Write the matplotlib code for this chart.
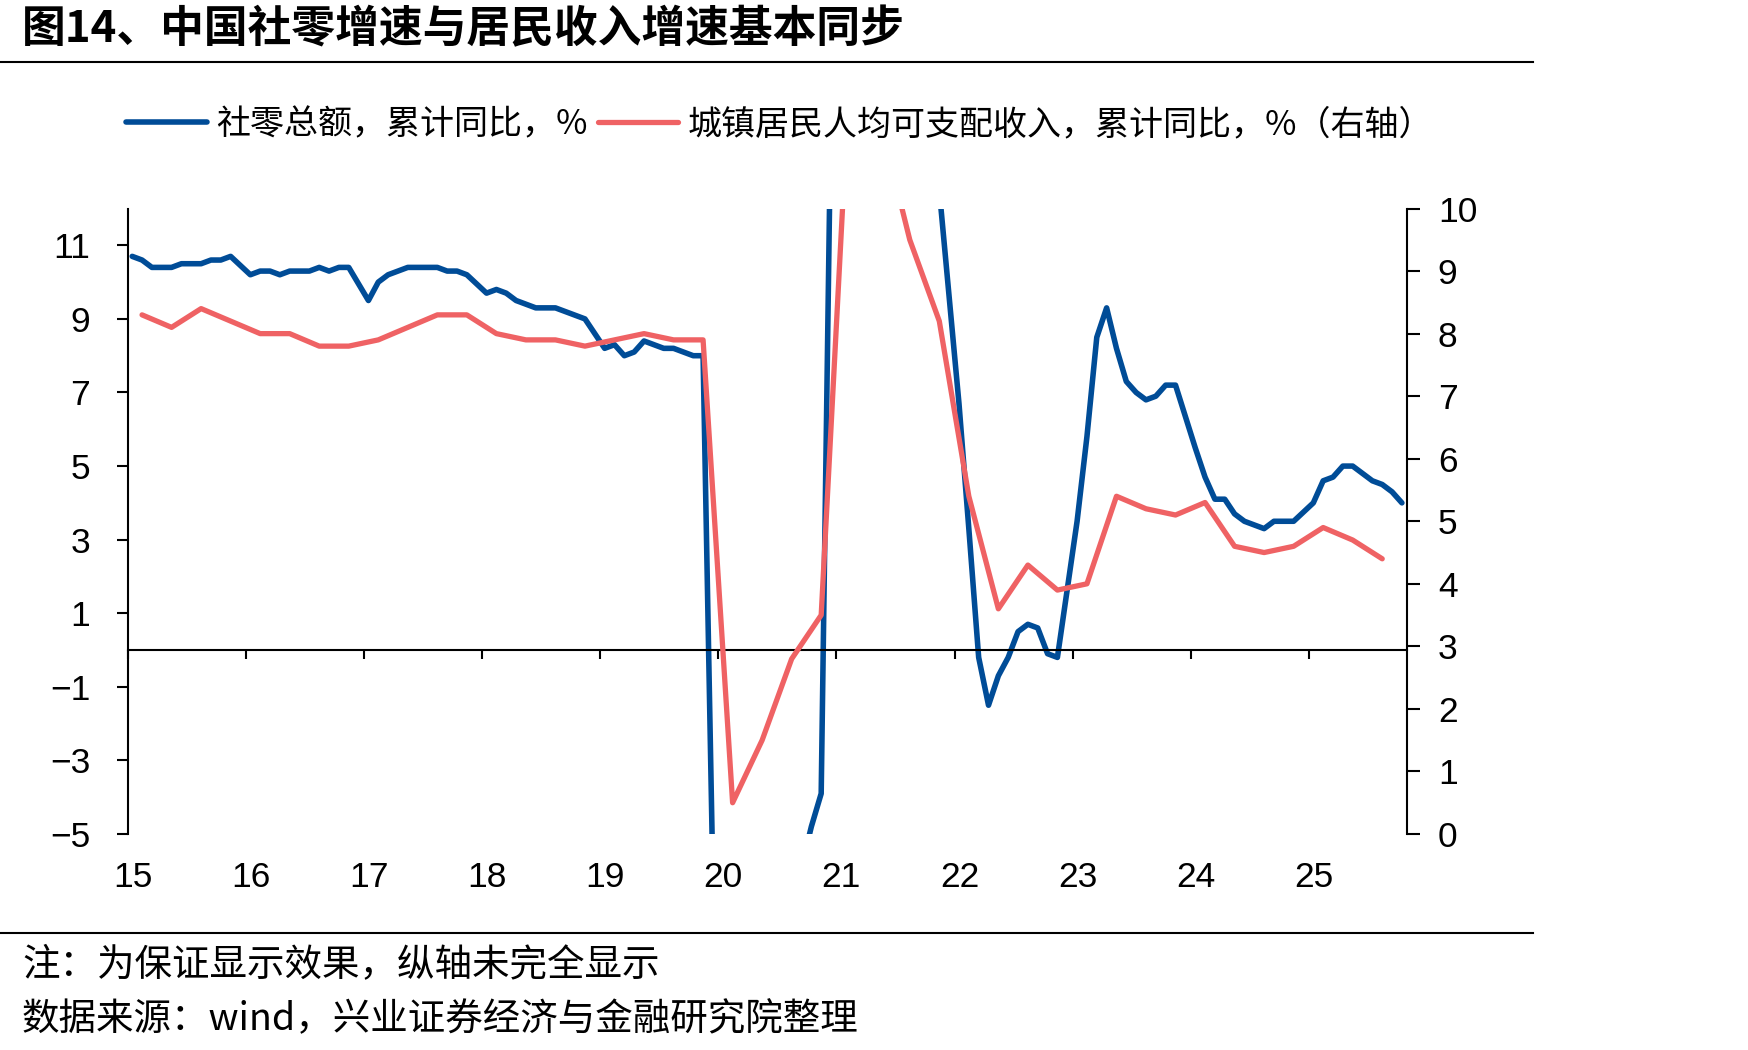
import numpy as np
import pandas as pd
import matplotlib
matplotlib.use("Agg")
import matplotlib.pyplot as plt
from matplotlib.lines import Line2D

plt.rcParams['font.family'] = ['Noto Sans CJK SC', 'DejaVu Sans']
plt.rcParams['axes.unicode_minus'] = True

# ---------------------------------------------------------------- data
title = "图14、中国社零增速与居民收入增速基本同步"
label_retail = "社零总额，累计同比，%"
label_income = "城镇居民人均可支配收入，累计同比，%（右轴）"
note = "注：为保证显示效果，纵轴未完全显示"
source = "数据来源：wind，兴业证券经济与金融研究院整理"
year_labels = ["15", "16", "17", "18", "19", "20", "21", "22", "23", "24", "25"]

# 社零总额累计同比 (Feb..Dec each year; Jan merged into Feb)
retail_2015 = [10.7, 10.6, 10.4, 10.4, 10.4, 10.5, 10.5, 10.5, 10.6, 10.6, 10.7]
retail_2016 = [10.2, 10.3, 10.3, 10.2, 10.3, 10.3, 10.3, 10.4, 10.3, 10.4, 10.4]
retail_2017 = [9.5, 10.0, 10.2, 10.3, 10.4, 10.4, 10.4, 10.4, 10.3, 10.3, 10.2]
retail_2018 = [9.7, 9.8, 9.7, 9.5, 9.4, 9.3, 9.3, 9.3, 9.2, 9.1, 9.0]
retail_2019 = [8.2, 8.3, 8.0, 8.1, 8.4, 8.3, 8.2, 8.2, 8.1, 8.0, 8.0]
retail_2020 = [-20.5, -19.0, -16.2, -13.5, -11.4, -9.9, -8.6, -7.2, -5.9, -4.8, -3.9]
retail_2021 = [33.8, 33.9, 29.6, 25.7, 23.0, 20.7, 18.1, 16.4, 14.9, 13.7, 12.5]
retail_2022 = [6.7, 3.3, -0.2, -1.5, -0.7, -0.2, 0.5, 0.7, 0.6, -0.1, -0.2]
retail_2023 = [3.5, 5.8, 8.5, 9.3, 8.2, 7.3, 7.0, 6.8, 6.9, 7.2, 7.2]
retail_2024 = [5.5, 4.7, 4.1, 4.1, 3.7, 3.5, 3.4, 3.3, 3.5, 3.5, 3.5]
retail_2025 = [4.0, 4.6, 4.7, 5.0, 5.0, 4.8, 4.6, 4.5, 4.3, 4.0]

# 城镇居民人均可支配收入累计同比 (Q1..Q4)
income_2015 = [8.3, 8.1, 8.4, 8.2]
income_2016 = [8.0, 8.0, 7.8, 7.8]
income_2017 = [7.9, 8.1, 8.3, 8.3]
income_2018 = [8.0, 7.9, 7.9, 7.8]
income_2019 = [7.9, 8.0, 7.9, 7.9]
income_2020 = [0.5, 1.5, 2.8, 3.5]
income_2021 = [12.5, 11.4, 9.5, 8.2]
income_2022 = [5.4, 3.6, 4.3, 3.9]
income_2023 = [4.0, 5.4, 5.2, 5.1]
income_2024 = [5.3, 4.6, 4.5, 4.6]
income_2025 = [4.9, 4.7, 4.4]

retail = sum([retail_2015, retail_2016, retail_2017, retail_2018, retail_2019,
              retail_2020, retail_2021, retail_2022, retail_2023, retail_2024,
              retail_2025], [])
income = sum([income_2015, income_2016, income_2017, income_2018, income_2019,
              income_2020, income_2021, income_2022, income_2023, income_2024,
              income_2025], [])

# month positions: months since 2015-02, plotted mid-month
retail_months = [p for p in pd.period_range("2015-02", "2025-11", freq="M") if p.month != 1]
income_months = pd.period_range("2015-03", "2025-09", freq="3M")
def month_pos(periods):
    return np.array([(p.year - 2015) * 12 + (p.month - 2) + 0.45 for p in periods])
retail_x = month_pos(retail_months)
income_x = month_pos(income_months)

BLUE = "#004C97"
RED = "#EF6264"
FS = 24.5
NUM_FONT = ["Liberation Sans", "DejaVu Sans"]

# ---------------------------------------------------------------- figure
fig = plt.figure(figsize=(17.48, 10.5), dpi=100)
ax = fig.add_axes([0.0731, 0.2057, 0.7320, 0.5957])
ax2 = ax.twinx()

l1, = ax.plot(retail_x, retail, color=BLUE, lw=4.0, solid_joinstyle="round",
              solid_capstyle="round", label=label_retail)
l2, = ax2.plot(income_x, income, color=RED, lw=3.8, solid_joinstyle="round",
               solid_capstyle="round", label=label_income)

ax.set_xlim(0, 130)
ax.set_ylim(-5, 12)
ax2.set_ylim(0, 10)
ax.set_yticks(range(-5, 12, 2))
ax2.set_yticks(range(0, 11))

for s in ["top", "right"]:
    ax.spines[s].set_visible(False)
for s in ["top", "left", "bottom"]:
    ax2.spines[s].set_visible(False)
ax.spines["bottom"].set_position(("data", 0))
for sp in [ax.spines["left"], ax.spines["bottom"], ax2.spines["right"]]:
    sp.set_linewidth(1.5)

ax.set_xticks(range(0, 131, 12))
ax.tick_params(axis="x", direction="out", length=6.7, width=1.5, labelbottom=False)
ax.tick_params(axis="y", direction="out", length=8, width=1.5, pad=19, labelsize=FS + 1,
               labelfontfamily=NUM_FONT)
ax2.tick_params(axis="y", direction="out", length=9, width=1.5, pad=13, labelsize=FS + 1,
                labelfontfamily=NUM_FONT)

for k, lab in enumerate(year_labels):
    ax.text(12 * k + 0.5, -0.069, lab, transform=ax.get_xaxis_transform(),
            ha="center", va="center", fontsize=FS + 1, family=NUM_FONT)

# legend
fig.legend(handles=[l1, l2], loc="center left", bbox_to_anchor=(126 / 1748, 1 - 124.5 / 1050),
           ncol=2, frameon=False, prop={"size": FS, "weight": "light"},
           handlelength=2.37, handletextpad=0.27,
           columnspacing=0.3, borderpad=0, borderaxespad=0)

# title, rules, notes
fig.text(22 / 1748, 1 - 29 / 1050, title, fontsize=31.5, fontweight="bold", va="center")
fig.add_artist(Line2D([0, 1533 / 1748], [1 - 62 / 1050] * 2, color="black", lw=1.5))
fig.add_artist(Line2D([0, 1533 / 1748], [1 - 933 / 1050] * 2, color="black", lw=1.5))
fig.text(22 / 1748, 1 - 965 / 1050, note, fontsize=27, fontweight="light", va="center")
fig.text(22 / 1748, 1 - 1020 / 1050, source, fontsize=27, fontweight="light", va="center")

fig.savefig("out.png", dpi=100)
